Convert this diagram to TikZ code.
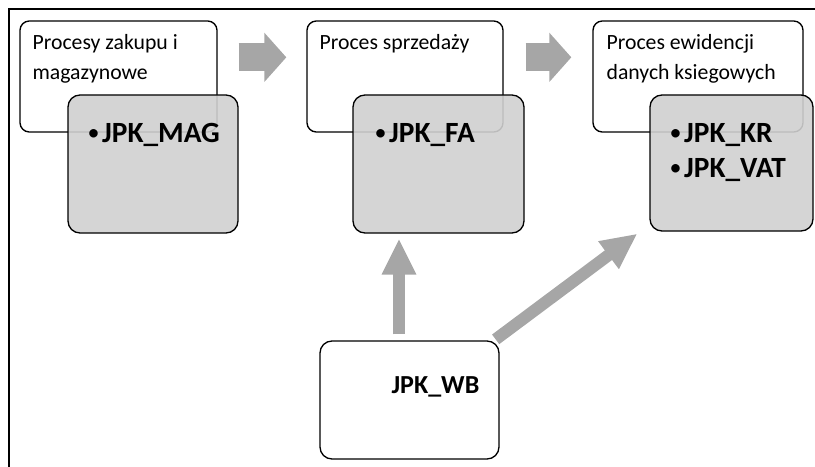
\documentclass[tikz,border=0pt]{standalone}
\usepackage{fontspec}
\setmainfont{Carlito}
\usetikzlibrary{arrows.meta,calc}
\definecolor{boxgray}{RGB}{208,208,208}
\definecolor{arrowgray}{RGB}{166,166,166}
\newcommand{\itembullet}{\raisebox{1.5pt}{\mdseries\fontsize{18}{18}\selectfont\textbullet}\kern2pt}
\begin{document}
\begin{tikzpicture}[x=0.75pt, y=-0.75pt,
	procbox/.style={draw, line width=1pt, rounded corners=7pt, fill=white},
	docbox/.style={draw, line width=1pt, rounded corners=9pt, fill=boxgray, fill opacity=0.9},
	proctext/.style={anchor=north west, align=left, inner sep=0pt, font=\fontsize{16.3}{22.5}\selectfont},
	docitem/.style={anchor=west, align=left, inner sep=0pt, font=\fontsize{22}{26}\selectfont\bfseries},
	bigarrow/.style={draw=arrowgray, line width=21pt, -{Triangle[width=36pt, length=16.5pt]}},
	thinarrow/.style={draw=arrowgray, line width=9pt, -{Triangle[width=24pt, length=27pt]}}]
	\useasboundingbox (0,0) rectangle (815,467);
	\draw[line width=1.5pt] (815,9)--(9,9)--(9,467);
	% process boxes
	\foreach \n/\x/\w in {zakup/118.5/147.75, sprzedaz/405/147, ewid/698/157.5}{
	\node[procbox, minimum width=\w pt, minimum height=83.25pt] (\n) at (\x,76.5) {};
	}
	\node[proctext] at ($(zakup.north west)+(13,14)$) {Procesy zakupu i\\magazynowe};
	\node[proctext] at ($(sprzedaz.north west)+(13,14)$) {Proces sprzedaży};
	\node[proctext] at ($(ewid.north west)+(14,14)$) {Proces ewidencji\\danych ksiegowych};
	% JPK boxes
	\node[docbox, minimum width=127.5pt, minimum height=103.5pt] (mag) at (153,164) {};
	\node[docbox, minimum width=128.25pt, minimum height=103.5pt] (fa) at (438.5,164) {};
	\node[docbox, minimum width=122.25pt, minimum height=102pt] (kr) at (731.5,163) {};
	\node[procbox, rounded corners=9pt, minimum width=134.25pt, minimum height=88.5pt] (wb) at (409.5,400) {};
	\node[docitem] at ($(mag.north west)+(20,41)$) {\itembullet JPK\_MAG};
	\node[docitem] at ($(fa.north west)+(22,41)$) {\itembullet JPK\_FA};
	\node[docitem] at ($(kr.north west)+(20,58)$) {\itembullet JPK\_KR\\\itembullet JPK\_VAT};
	\node[docitem, anchor=center, font=\fontsize{19.5}{24}\selectfont\bfseries] at ($(wb)+(26,-13)$) {JPK\_WB};
	% arrows
	\draw[bigarrow] ($(zakup.north east)+(21,37)$)--($(sprzedaz.north west)+(-20,37)$);
	\draw[bigarrow] ($(sprzedaz.north east)+(22,37)$)--($(ewid.north west)+(-21,37)$);
	\draw[thinarrow] ($(wb.north)+(-10.5,-6)$)--($(fa.south)+(-39.5,5)$);
	\draw[thinarrow] ($(wb.north east)+(-4,-1)$)--($(kr.south west)+(-12,2)$);
\end{tikzpicture}
\end{document}
